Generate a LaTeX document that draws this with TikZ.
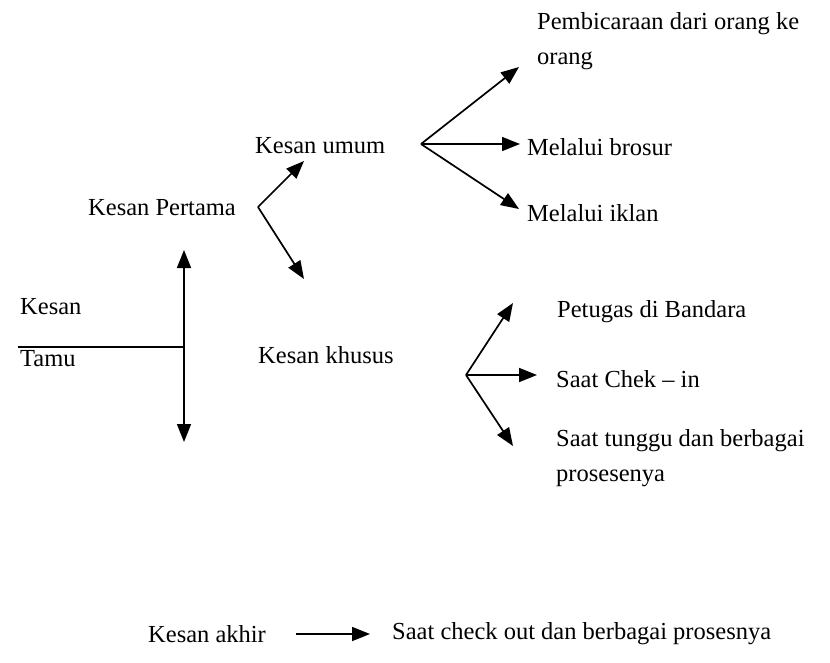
\documentclass[tikz,border=0pt]{standalone}
\usepackage{fontspec}
\setmainfont{Liberation Serif}
\usetikzlibrary{arrows.meta}

\begin{document}
\begin{tikzpicture}[x=1pt,y=-1pt,
  lbl/.style={anchor=west,inner sep=0pt,align=left,
    font=\fontsize{24.5}{35}\selectfont},
  a/.style={-{Triangle[length=18pt,width=14pt]},line width=1.7pt},
  aa/.style={{Triangle[length=18pt,width=14pt]}-{Triangle[length=18pt,width=14pt]},line width=1.7pt}]
\useasboundingbox (0,0) rectangle (830,662);
% texts
\node[lbl] (tamu1) at (20,307) {Kesan};
\node[lbl] (tamu2) at (20,359) {Tamu};
\node[lbl] (pert) at (88,208) {Kesan Pertama};
\node[lbl] (umum) at (255,146) {Kesan umum};
\node[lbl] (khus) at (258,355) {Kesan khusus};
\node[lbl] (u1) at (537,41) {Pembicaraan dari orang ke\\orang};
\node[lbl] (u2) at (527,147) {Melalui brosur};
\node[lbl] (u3) at (527,213) {Melalui iklan};
\node[lbl] (k1) at (557,312) {Petugas di Bandara};
\node[lbl] (k2) at (556,379) {Saat Chek -- in};
\node[lbl] (k3) at (556,458) {Saat tunggu dan berbagai\\prosesenya};
\node[lbl] (akh) at (148,634) {Kesan akhir};
\node[lbl] (out) at (392,634) {Saat check out dan berbagai prosesnya};
% points
\coordinate (c0) at (184,347);
\coordinate (t0) at (184,250);
\coordinate (b0) at (184,442);
\coordinate (p0) at (258,207);
\coordinate (pu) at (304,161);
\coordinate (pk) at (304,279);
\coordinate (m0) at (421,144);
\coordinate (m1) at (519,67);
\coordinate (m2) at (520,144);
\coordinate (m3) at (519,209);
\coordinate (s0) at (466,375);
\coordinate (s1) at (513,303);
\coordinate (s2) at (537,375);
\coordinate (s3) at (513,446);
% connectors
\draw[line width=1.5pt] (18,347) -- (c0);
\draw[aa] (b0) -- (t0);
\draw[a] (p0) -- (pu); \draw[a] (p0) -- (pk);
\draw[a] (m0) -- (m1); \draw[a] (m0) -- (m2); \draw[a] (m0) -- (m3);
\draw[a] (s0) -- (s1); \draw[a] (s0) -- (s2); \draw[a] (s0) -- (s3);
\draw[a] ([xshift=30pt]akh.east) -- ([xshift=-22pt]out.west);
\end{tikzpicture}
\end{document}
